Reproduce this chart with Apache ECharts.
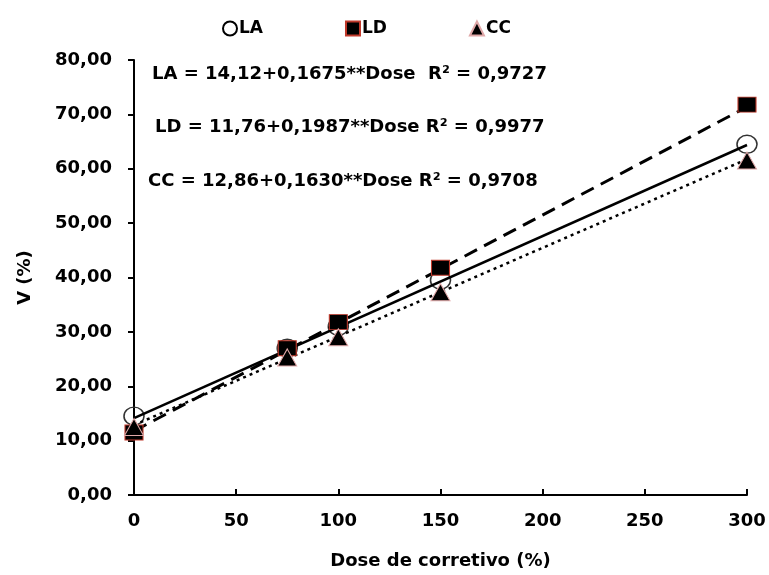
<!DOCTYPE html>
<html><head><meta charset="utf-8">
<script src="https://cdn.jsdelivr.net/npm/echarts@6/dist/echarts.min.js"></script>
<style>html,body{margin:0;padding:0;background:#fff}#c{width:769px;height:575px}</style>
</head><body><div id="c"></div>
<script>
var doses = [0, 75, 100, 150, 300];
var laValues = [14.5, 27.0, 31.0, 39.5, 64.5];
var ldValues = [11.5, 27.0, 31.8, 41.8, 71.8];
var ccValues = [12.5, 25.3, 29.0, 37.3, 61.5];
var seriesNames = ['LA', 'LD', 'CC'];
var intercepts = [14.12, 11.76, 12.86];
var slopes = [0.1675, 0.1987, 0.1630];
var trendRange = [0, 300];
var equationTexts = [
  'LA = 14,12+0,1675**Dose  R² = 0,9727',
  'LD = 11,76+0,1987**Dose R² = 0,9977',
  'CC = 12,86+0,1630**Dose R² = 0,9708'
];
var yTicks = [0, 10, 20, 30, 40, 50, 60, 70, 80];
var xTicks = [0, 50, 100, 150, 200, 250, 300];

function pairs(xs, ys){ return xs.map(function(x,i){ return [x, ys[i]]; }); }
function trend(i){ return trendRange.map(function(x){ return [x, +(intercepts[i] + slopes[i]*x).toFixed(3)]; }); }

var FONT = 'DejaVu Sans';
var chart = echarts.init(document.getElementById('c'));
chart.setOption({
  animation: false,
  backgroundColor: '#fff',
  grid: { left: 134, right: 22, top: 60, bottom: 78 },
  legend: {
    data: [
      { name: 'LA', icon: 'circle', itemStyle: { color: '#fff', borderColor: '#000', borderWidth: 2, opacity: 1 } },
      { name: 'LD', icon: 'rect', itemStyle: { opacity: 1 } },
      { name: 'CC', icon: 'triangle', itemStyle: { opacity: 1 } }
    ],
    left: 217, top: 15, itemWidth: 14, itemHeight: 14, itemGap: 82,
    textStyle: { fontFamily: FONT, fontWeight: 'bold', fontSize: 17, color: '#000', padding: [0,0,0,-3] }
  },
  xAxis: {
    type: 'value', min: 0, max: 300, interval: 50,
    name: 'Dose de corretivo (%)', nameLocation: 'middle', nameGap: 57,
    nameTextStyle: { fontFamily: FONT, fontWeight: 'bold', fontSize: 18, color: '#000' },
    axisLine: { lineStyle: { color: '#000', width: 2 } },
    axisTick: { inside: true, length: 6, lineStyle: { color: '#000', width: 2 } },
    axisLabel: { margin: 17, fontFamily: FONT, fontWeight: 'bold', fontSize: 18, color: '#000',
      formatter: function(v){ return xTicks.indexOf(v) >= 0 ? String(v) : ''; } },
    splitLine: { show: false }
  },
  yAxis: {
    type: 'value', min: 0, max: 80, interval: 10,
    name: 'V (%)', nameLocation: 'middle', nameGap: 100, nameRotate: 90,
    nameTextStyle: { fontFamily: FONT, fontWeight: 'bold', fontSize: 18, color: '#000' },
    axisLine: { show: true, lineStyle: { color: '#000', width: 2 } },
    axisTick: { show: true, length: 6, lineStyle: { color: '#000', width: 2 } },
    axisLabel: { margin: 22, fontFamily: FONT, fontWeight: 'bold', fontSize: 18, color: '#000',
      formatter: function(v){ return yTicks.indexOf(v) >= 0 ? v.toFixed(2).replace('.', ',') : ''; } },
    splitLine: { show: false }
  },
  graphic: equationTexts.map(function(t, i){
    return { type: 'text', left: [152, 155, 148][i], top: [65, 118, 172][i],
      style: { text: t, fontFamily: FONT, fontWeight: 'bold', fontSize: 18, fill: '#000' } };
  }),
  series: [
    { name: 'LA trend', type: 'line', data: trend(0), symbol: 'none', z: 3,
      lineStyle: { color: '#000', width: 2.5, type: 'solid' } },
    { name: 'LD trend', type: 'line', data: trend(1), symbol: 'none', z: 3,
      lineStyle: { color: '#000', width: 3, type: [14, 8] } },
    { name: 'CC trend', type: 'line', data: trend(2), symbol: 'none', z: 3,
      lineStyle: { color: '#000', width: 2.5, type: [3, 4] } },
    { name: 'LA', type: 'scatter', data: pairs(doses, laValues), symbol: 'circle', symbolSize: [20, 18], z: 2,
      itemStyle: { color: 'rgba(255,255,255,0)', borderColor: '#333', borderWidth: 1.5, opacity: 1 } },
    { name: 'LD', type: 'scatter', data: pairs(doses, ldValues), symbol: 'rect', symbolSize: [18, 15], z: 4,
      itemStyle: { color: '#000', borderColor: '#c0392b', borderWidth: 1, opacity: 1 } },
    { name: 'CC', type: 'scatter', data: pairs(doses, ccValues), symbol: 'triangle', symbolSize: [19, 17], z: 4,
      itemStyle: { color: '#000', borderColor: '#e0a8a8', borderWidth: 1, opacity: 1 } }
  ]
});
</script></body></html>
